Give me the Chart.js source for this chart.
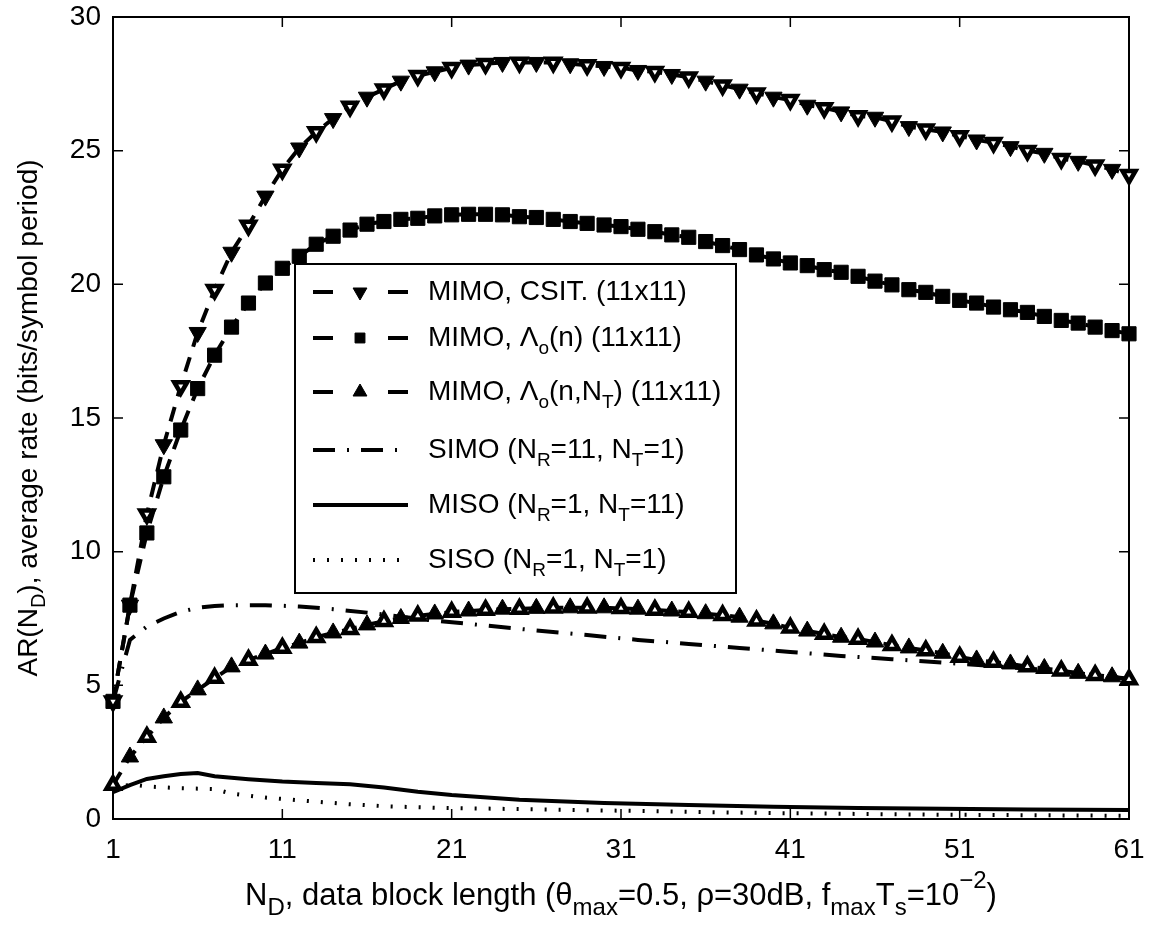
<!DOCTYPE html>
<html lang="en">
<head>
  <meta charset="UTF-8" />
  <title>Average rate vs data block length</title>
  <script src="https://cdn.jsdelivr.net/npm/chart.js"></script>
  <style>
    body {
      margin: 0;
      background: #fff;
    }

    .wrap {
      position: relative;
      width: 1151px;
      height: 927px;
    }
  </style>
</head>
<body>
  <div class="wrap">
    <canvas id="chart"></canvas>
  </div>

  <script>
    // N_D values 1..61
    const nD = Array.from({ length: 61 }, (_, i) => i + 1);
    const xTicks = [1, 11, 21, 31, 41, 51, 61];
    const yTicks = [0, 5, 10, 15, 20, 25, 30];

    const mimoCsit = [
      4.4, 8.0, 11.4, 14.0, 16.2, 18.2, 19.8, 21.2, 22.2, 23.3,
      24.3, 25.1, 25.7, 26.2, 26.65, 27.0, 27.3, 27.6, 27.8, 27.95,
      28.1, 28.2, 28.25, 28.3, 28.3, 28.3, 28.3, 28.25, 28.2, 28.15,
      28.1, 28.0, 27.95, 27.85, 27.75, 27.6, 27.45, 27.3, 27.15, 27.0,
      26.9, 26.7, 26.6, 26.45, 26.3, 26.25, 26.1, 25.9, 25.8, 25.7,
      25.55, 25.4, 25.3, 25.15, 25.0, 24.9, 24.7, 24.6, 24.45, 24.3,
      24.1
    ];

    const mimoLo = [
      4.4, 8.0, 10.7, 12.8, 14.55, 16.1, 17.35, 18.4, 19.3, 20.05,
      20.6, 21.05, 21.5, 21.8, 22.03, 22.25, 22.35, 22.43, 22.47, 22.56,
      22.6, 22.62, 22.62, 22.6, 22.53, 22.5, 22.43, 22.35, 22.28, 22.22,
      22.16, 22.06, 21.97, 21.85, 21.76, 21.6, 21.45, 21.3, 21.1, 20.95,
      20.8, 20.7, 20.55, 20.45, 20.3, 20.12, 19.98, 19.8, 19.7, 19.55,
      19.4, 19.3, 19.15, 19.05, 18.95, 18.8, 18.65, 18.55, 18.4, 18.27,
      18.15
    ];

    const mimoLoNt = [
      1.27, 2.32, 3.07, 3.78, 4.38, 4.83, 5.27, 5.69, 5.95, 6.17,
      6.4, 6.58, 6.8, 6.96, 7.1, 7.26, 7.4, 7.5, 7.6, 7.67,
      7.74, 7.78, 7.82, 7.85, 7.86, 7.88, 7.9, 7.9, 7.9, 7.9,
      7.88, 7.85, 7.82, 7.78, 7.74, 7.68, 7.62, 7.55, 7.42, 7.3,
      7.15, 7.03, 6.92, 6.8, 6.73, 6.62, 6.5, 6.4, 6.3, 6.2,
      6.06, 5.95, 5.87, 5.8, 5.7, 5.63, 5.55, 5.45, 5.38, 5.32,
      5.22
    ];

    const simoX = [1, 2, 3, 4, 5, 6, 7, 8, 10, 12, 14, 16, 18, 20, 23, 26, 29, 32, 35, 38, 41, 44, 47, 50, 53, 56, 61];
    const simoY = [4.4, 6.7, 7.2, 7.5, 7.75, 7.9, 7.97, 8.0, 8.0, 7.95, 7.85, 7.72, 7.57, 7.42, 7.24, 7.05, 6.88, 6.7, 6.55, 6.4, 6.25, 6.1, 5.98, 5.85, 5.72, 5.58, 5.25];

    const misoX = [1, 2, 3, 4, 5, 6, 7, 9, 11, 13, 15, 17, 19, 21, 25, 30, 35, 40, 45, 50, 55, 61];
    const misoY = [1.0, 1.27, 1.5, 1.6, 1.68, 1.72, 1.6, 1.49, 1.4, 1.35, 1.3, 1.18, 1.02, 0.9, 0.72, 0.6, 0.52, 0.46, 0.41, 0.38, 0.36, 0.34];

    const sisoX = [1, 2, 3, 5, 7, 8, 10, 12, 14, 15, 17, 20, 28, 40, 50, 61];
    const sisoY = [1.08, 1.3, 1.22, 1.15, 1.12, 0.95, 0.8, 0.7, 0.6, 0.55, 0.48, 0.42, 0.34, 0.22, 0.16, 0.12];

    const seriesLabels = [
      "MIMO, CSIT. (11x11)",
      "MIMO, Λo(n) (11x11)",
      "MIMO, Λo(n,NT) (11x11)",
      "SIMO (NR=11, NT=1)",
      "MISO (NR=1, NT=11)",
      "SISO (NR=1, NT=1)"
    ];

    // same labels with sub/superscripts for drawing
    const legendText = [
      [["MIMO, CSIT. (11x11)", "n"]],
      [["MIMO, Λ", "n"], ["o", "sub"], ["(n) (11x11)", "n"]],
      [["MIMO, Λ", "n"], ["o", "sub"], ["(n,N", "n"], ["T", "sub"], [") (11x11)", "n"]],
      [["SIMO (N", "n"], ["R", "sub"], ["=11, N", "n"], ["T", "sub"], ["=1)", "n"]],
      [["MISO (N", "n"], ["R", "sub"], ["=1, N", "n"], ["T", "sub"], ["=11)", "n"]],
      [["SISO (N", "n"], ["R", "sub"], ["=1, N", "n"], ["T", "sub"], ["=1)", "n"]]
    ];

    const xTitle = [
      ["N", "n"], ["D", "sub"], [", data block length (θ", "n"], ["max", "sub"],
      ["=0.5, ρ=30dB, f", "n"], ["max", "sub"], ["T", "n"], ["s", "sub"],
      ["=10", "n"], ["−2", "sup"], [")", "n"]
    ];
    const yTitle = [["AR(N", "n"], ["D", "sub"], ["), average rate (bits/symbol period)", "n"]];

    const FONT = '"Liberation Sans", Arial, Helvetica, sans-serif';

    const pts = (xs, ys) => xs.map((x, i) => ({ x: x, y: ys[i] }));
    // every other marker drawn with a thick outline and a tiny white core
    const altFill = c => (c.dataIndex % 2 === 0 ? "#fff" : "#000");
    const altBorder = c => (c.dataIndex % 2 === 0 ? 4.5 : 1);
    const altRadius = c => (c.dataIndex % 2 === 0 ? 7.5 : 10);

    function drawRich(ctx, parts, x, y, align, size, subSize) {
      const fontFor = k => (k === "n" ? size : subSize) + "px " + FONT;
      let w = 0;
      parts.forEach(([t, k]) => {
        ctx.font = fontFor(k);
        w += ctx.measureText(t).width;
      });
      let cx = align === "center" ? x - w / 2 : x;
      ctx.textAlign = "left";
      ctx.textBaseline = "middle";
      ctx.fillStyle = "#000";
      parts.forEach(([t, k]) => {
        ctx.font = fontFor(k);
        const dy = k === "sub" ? size * 0.39 : k === "sup" ? -size * 0.46 : 0;
        ctx.fillText(t, cx, y + dy);
        cx += ctx.measureText(t).width;
      });
    }

    const framePlugin = {
      id: "frame",
      beforeDatasetsDraw(chart) {
        const { ctx, chartArea: a, scales: { x, y } } = chart;
        ctx.save();
        ctx.strokeStyle = "#000";
        ctx.lineWidth = 1.5;
        ctx.beginPath();
        xTicks.forEach(v => {
          const px = x.getPixelForValue(v);
          ctx.moveTo(px, a.bottom);
          ctx.lineTo(px, a.bottom - 10);
          ctx.moveTo(px, a.top);
          ctx.lineTo(px, a.top + 10);
        });
        yTicks.forEach(v => {
          const py = y.getPixelForValue(v);
          ctx.moveTo(a.left, py);
          ctx.lineTo(a.left + 10, py);
          ctx.moveTo(a.right, py);
          ctx.lineTo(a.right - 10, py);
        });
        ctx.stroke();
        ctx.lineWidth = 2;
        ctx.strokeRect(a.left, a.top, a.right - a.left, a.bottom - a.top);
        ctx.restore();
      },
      afterDraw(chart) {
        const { ctx, chartArea: a } = chart;
        const sets = chart.data.datasets;
        ctx.save();

        // legend box
        const lx = 295, ly = 264, lw = 441, lh = 329;
        const rowY = [292, 338, 392, 450, 505, 560];
        ctx.fillStyle = "#fff";
        ctx.fillRect(lx, ly, lw, lh);
        ctx.strokeStyle = "#000";
        ctx.lineWidth = 2;
        ctx.strokeRect(lx, ly, lw, lh);

        rowY.forEach((ry, i) => {
          const ds = sets[i];
          ctx.strokeStyle = "#000";
          ctx.lineCap = "butt";
          if (i < 3) {
            ctx.setLineDash([]);
            ctx.lineWidth = 4;
            ctx.beginPath();
            ctx.moveTo(313, ry);
            ctx.lineTo(333, ry);
            ctx.moveTo(388, ry);
            ctx.lineTo(408, ry);
            ctx.stroke();
            ctx.fillStyle = "#000";
            ctx.lineWidth = 1;
            Chart.helpers.drawPoint(ctx, {
              pointStyle: ds.pointStyle,
              radius: ds.pointStyle === "rect" ? 7 : 8,
              rotation: ds.pointRotation || 0,
              borderWidth: 1
            }, 360, ry);
          } else {
            ctx.setLineDash(ds.borderDash || []);
            ctx.lineWidth = ds.borderWidth;
            ctx.beginPath();
            ctx.moveTo(313, ry);
            ctx.lineTo(408, ry);
            ctx.stroke();
          }
          ctx.setLineDash([]);
          drawRich(ctx, legendText[i], 428, ry, "left", 28, 19);
        });

        // axis titles
        drawRich(ctx, xTitle, (a.left + a.right) / 2, 896, "center", 31, 24);
        ctx.translate(29, (a.top + a.bottom) / 2);
        ctx.rotate(-Math.PI / 2);
        drawRich(ctx, yTitle, 0, 0, "center", 28, 20);
        ctx.restore();
      }
    };

    const tickFont = { family: FONT, size: 28 };

    new Chart(document.getElementById("chart"), {
      type: "line",
      data: {
        datasets: [
          {
            label: seriesLabels[0],
            data: pts(nD, mimoCsit),
            borderColor: "#000",
            borderWidth: 4,
            borderDash: [15, 11],
            pointStyle: "triangle",
            pointRotation: 180,
            pointRadius: altRadius,
            pointBackgroundColor: altFill,
            pointBorderColor: "#000",
            pointBorderWidth: altBorder,
            clip: false
          },
          {
            label: seriesLabels[1],
            data: pts(nD, mimoLo),
            borderColor: "#000",
            borderWidth: 4,
            borderDash: [15, 11],
            pointStyle: "rect",
            pointRadius: 10,
            pointBackgroundColor: "#000",
            pointBorderColor: "#000",
            pointBorderWidth: 1,
            clip: false
          },
          {
            label: seriesLabels[2],
            data: pts(nD, mimoLoNt),
            borderColor: "#000",
            borderWidth: 4,
            borderDash: [15, 11],
            pointStyle: "triangle",
            pointRadius: altRadius,
            pointBackgroundColor: altFill,
            pointBorderColor: "#000",
            pointBorderWidth: altBorder,
            clip: false
          },
          {
            label: seriesLabels[3],
            data: pts(simoX, simoY),
            borderColor: "#000",
            borderWidth: 4,
            borderDash: [22, 12, 2, 12],
            pointRadius: 0
          },
          {
            label: seriesLabels[4],
            data: pts(misoX, misoY),
            borderColor: "#000",
            borderWidth: 4,
            pointRadius: 0
          },
          {
            label: seriesLabels[5],
            data: pts(sisoX, sisoY),
            borderColor: "#000",
            borderWidth: 4,
            borderDash: [2, 12],
            pointRadius: 0
          }
        ]
      },
      options: {
        responsive: true,
        maintainAspectRatio: false,
        animation: false,
        events: [],
        layout: {
          padding: { top: 17, right: 22, left: 0, bottom: 0 }
        },
        elements: {
          line: { tension: 0, fill: false }
        },
        scales: {
          x: {
            type: "linear",
            min: 1,
            max: 61,
            afterBuildTicks: s => { s.ticks = xTicks.map(v => ({ value: v })); },
            afterFit: s => {
              s.height = 108;
              s.paddingLeft = 0;
              s.paddingRight = 0;
            },
            grid: { display: false, drawTicks: false },
            border: { display: false },
            ticks: { color: "#000", font: tickFont, padding: 14, maxRotation: 0, autoSkip: false }
          },
          y: {
            type: "linear",
            min: 0,
            max: 30,
            afterBuildTicks: s => { s.ticks = yTicks.map(v => ({ value: v })); },
            afterFit: s => {
              s.width = 113;
              s.paddingTop = 0;
              s.paddingBottom = 0;
            },
            grid: { display: false, drawTicks: false },
            border: { display: false },
            ticks: { color: "#000", font: tickFont, padding: 12 }
          }
        },
        plugins: {
          legend: { display: false },
          tooltip: { enabled: false }
        }
      },
      plugins: [framePlugin]
    });
  </script>
</body>
</html>
